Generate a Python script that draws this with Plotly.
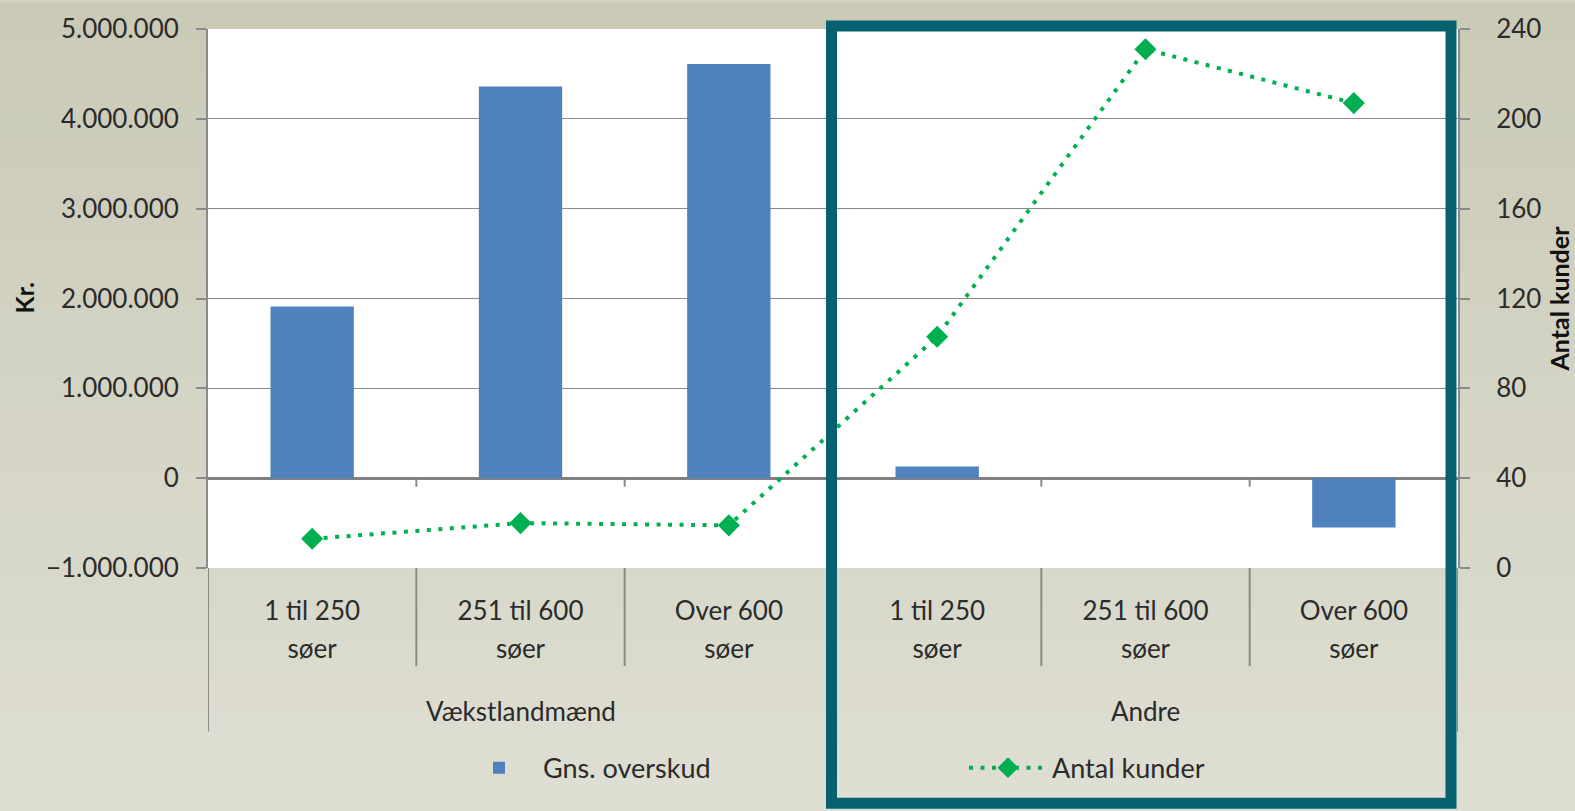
import plotly.graph_objects as go

# ---------------- data ----------------
groups = ["Vækstlandmænd", "Andre"]
size_top = ["1 til 250", "251 til 600", "Over 600"]
size_bottom = ["søer", "søer", "søer"]
overskud = [1910000, 4360000, 4610000, 130000, 0, -550000]   # Gns. overskud (Kr.)
kunder = [13, 20, 19, 103, 231, 207]                          # Antal kunder
left_ticks = [-1000000, 0, 1000000, 2000000, 3000000, 4000000, 5000000]
right_ticks = [0, 40, 80, 120, 160, 200, 240]

n = len(groups) * len(size_top)
xpos = list(range(n))
ticktext_top = [s for g in groups for s in size_top]
ticktext_bottom = [s for g in groups for s in size_bottom]

# ---------------- layout geometry (pixels) ----------------
W, H = 1575, 811
L, R, T, B = 208, 117, 24, 243
pw, ph = W - L - R, H - T - B


def px_x(x):
    return (x - L) / pw


def px_y(y):
    return (H - B - y) / ph


FONT = "Lato"
FS = 26
TXT = "#2b2b2b"
GRID = "#8a8a8a"

fig = go.Figure()
fig.add_trace(go.Bar(
    x=xpos, y=overskud, name="Gns. overskud", width=0.4,
    marker=dict(color="#4F81BD", line=dict(width=0)), xaxis="x", yaxis="y",
))
fig.add_trace(go.Scatter(
    x=xpos, y=kunder, name="Antal kunder", xaxis="x2", yaxis="y2", mode="lines+markers",
    line=dict(color="#00B050", width=4, dash="4px,7.5px"),
    marker=dict(symbol="diamond", size=17, color="#00B050"),
))

shapes = []
# background gradient
top_c = (203, 202, 183)
bot_c = (222, 222, 210)
nb = 24
for i in range(nb):
    t = i / (nb - 1)
    c = tuple(round(top_c[k] + (bot_c[k] - top_c[k]) * t) for k in range(3))
    shapes.append(dict(type="rect", xref="paper", yref="paper",
                       x0=px_x(-5), x1=px_x(W + 5),
                       y0=px_y(H * i / nb - (3 if i == 0 else 0)),
                       y1=px_y(H * (i + 1) / nb + (3 if i == nb - 1 else 0)),
                       fillcolor="rgb(%d,%d,%d)" % c, line=dict(width=0), layer="below"))
# white plot area
shapes.append(dict(type="rect", xref="paper", yref="paper", x0=0, x1=1, y0=0, y1=1,
                   fillcolor="white", line=dict(width=0), layer="below"))

# category dividers below plot
for b in [0.5, 1.5, 3.5, 4.5]:
    shapes.append(dict(type="line", xref="x", yref="paper", x0=b, x1=b,
                       y0=0, y1=px_y(667), line=dict(color=GRID, width=2)))
for b in [-0.5, 2.5, 5.5]:
    shapes.append(dict(type="line", xref="x", yref="paper", x0=b, x1=b,
                       y0=0, y1=px_y(733), line=dict(color=GRID, width=2)))
# small ticks on zero line
for b in [0.5, 1.5, 2.5, 3.5, 4.5]:
    shapes.append(dict(type="line", xref="x", yref="y", x0=b, x1=b,
                       y0=0, y1=-95000, line=dict(color=GRID, width=2)))
# teal highlight frame
shapes.append(dict(type="rect", xref="paper", yref="paper",
                   x0=px_x(831.5), x1=px_x(1451), y0=px_y(805.5), y1=px_y(21),
                   line=dict(color="#05616F", width=11), fillcolor="rgba(0,0,0,0)",
                   layer="above"))

annotations = [
    dict(text="<b>Kr.</b>", xref="paper", yref="paper", x=px_x(23), y=0.5,
         xanchor="center", yanchor="middle",
         textangle=-90, showarrow=False, font=dict(family=FONT, size=25, color="#111")),
    dict(text="<b>Antal kunder</b>", xref="paper", yref="paper", x=px_x(1558), y=0.5,
         xanchor="center", yanchor="middle",
         textangle=-90, showarrow=False, font=dict(family=FONT, size=25, color="#111")),
]
for gi, g in enumerate(groups):
    annotations.append(dict(text=g, xref="x", yref="paper", x=gi * len(size_top) + 1,
                            y=px_y(712), xanchor="center", yanchor="middle", showarrow=False,
                            font=dict(family=FONT, size=FS, color=TXT)))

fig.update_layout(
    width=W, height=H,
    margin=dict(l=L, r=R, t=T, b=B, pad=0),
    paper_bgcolor="rgb(212,211,196)",
    plot_bgcolor="rgba(0,0,0,0)",
    separators=",.",
    font=dict(family=FONT, size=FS, color=TXT),
    bargap=0.6,
    showlegend=True,
    legend=dict(orientation="h", x=px_x(455), xanchor="left", y=px_y(770), yanchor="middle",
                bgcolor="rgba(0,0,0,0)", entrywidth=416, entrywidthmode="pixels",
                font=dict(family=FONT, size=27, color=TXT), itemwidth=78),
    xaxis=dict(range=[-0.5, n - 0.5], tickvals=xpos, ticktext=ticktext_top,
               showgrid=False, zeroline=False, showline=False, ticks="",
               ticklabelstandoff=25, tickfont=dict(family=FONT, size=FS, color=TXT)),
    xaxis2=dict(range=[-0.5, n - 0.5], tickvals=xpos, ticktext=ticktext_bottom,
                overlaying="x", anchor="y2", side="bottom",
                showgrid=False, zeroline=False, showline=False, ticks="",
                ticklabelstandoff=63, tickfont=dict(family=FONT, size=FS, color=TXT)),
    yaxis=dict(range=[-1000000, 5000000], tickvals=left_ticks, tickformat=",d",
               showgrid=True, gridcolor=GRID, gridwidth=1.3,
               zeroline=True, zerolinecolor="#808080", zerolinewidth=2.5,
               showline=True, linecolor=GRID, linewidth=2,
               ticks="outside", ticklen=10, tickcolor=GRID, tickwidth=2,
               ticklabelstandoff=12, tickfont=dict(family=FONT, size=FS, color=TXT)),
    yaxis2=dict(range=[0, 240], tickvals=right_ticks, overlaying="y", side="right",
                anchor="x2",
                showgrid=False, zeroline=False,
                showline=True, linecolor=GRID, linewidth=2,
                ticks="outside", ticklen=10, tickcolor=GRID, tickwidth=2,
                ticklabelstandoff=21, tickfont=dict(family=FONT, size=FS, color=TXT)),
    shapes=shapes,
    annotations=annotations,
)

fig.write_html("out.html", config={"displayModeBar": False},
               post_script="document.body.style.margin='0';document.body.style.padding='0';")
